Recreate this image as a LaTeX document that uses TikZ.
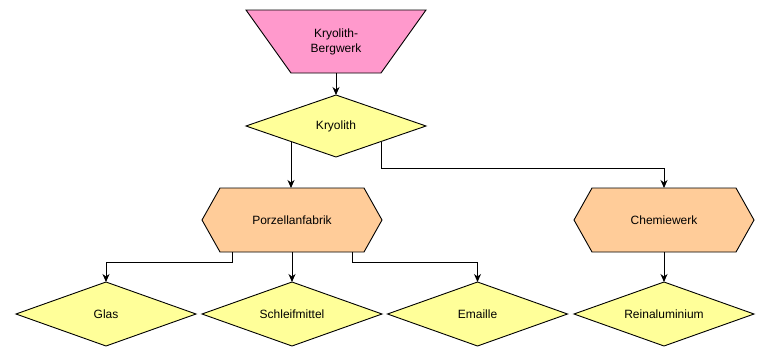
\documentclass[tikz,border=0pt]{standalone}
\usepackage{fontspec}
\setmainfont{Liberation Sans}
\usetikzlibrary{arrows.meta,calc,backgrounds}
\definecolor{pinkfill}{HTML}{FF99CC}
\definecolor{yelfill}{HTML}{FFFF99}
\definecolor{orafill}{HTML}{FFCC99}
\tikzset{
  box/.style={minimum width=180pt, minimum height=#1, inner sep=0pt, outer sep=0pt,
    font=\fontsize{12}{15}\selectfont, align=center},
  box/.default=64pt,
  outline/.style={draw=black, line width=0.9pt, line join=miter},
  arr/.style={draw=black, line width=0.9pt, -{Stealth[length=8pt,width=7pt,inset=2.5pt]}},
}
\begin{document}
\begin{tikzpicture}[x=1pt,y=-1pt]
\useasboundingbox (0,0) rectangle (767,359);
% nodes
\node[box=63pt] (mine) at (336,41.5) {Kryolith-\\Bergwerk};
\node[box=62pt] (kry) at (336,126) {Kryolith};
\node[box] (porz) at (292,220) {Porzellanfabrik};
\node[box] (chem) at (664,220) {Chemiewerk};
\node[box] (glas) at (106,314) {Glas};
\node[box] (schl) at (292,314) {Schleifmittel};
\node[box] (emai) at (477.5,314) {Emaille};
\node[box] (rein) at (664,314) {Reinaluminium};
% shapes
\begin{scope}[on background layer]
\path[outline, fill=pinkfill] (mine.north west) -- (mine.north east)
  -- ([xshift=-45pt]mine.south east) -- ([xshift=45pt]mine.south west) -- cycle;
\foreach \n in {kry,glas,schl,emai,rein}{
  \path[outline, fill=yelfill] (\n.west) -- (\n.north) -- (\n.east) -- (\n.south) -- cycle;
}
\foreach \n in {porz,chem}{
  \path[outline, fill=orafill] (\n.west) -- ([xshift=18pt]\n.north west) -- ([xshift=-18pt]\n.north east)
    -- (\n.east) -- ([xshift=-18pt]\n.south east) -- ([xshift=18pt]\n.south west) -- cycle;
}
\end{scope}
% connectors
\coordinate (kl) at ($(kry.south)!0.5!(kry.west)$);
\coordinate (kr) at ($(kry.south)!0.5!(kry.east)$);
\coordinate (kbend) at ($(kr)+(0,26.5)$);
\coordinate (pl) at ([xshift=-60pt]porz.south);
\coordinate (pr) at ([xshift=60pt]porz.south);
\coordinate (plb) at ($(pl)+(0,10)$);
\coordinate (prb) at ($(pr)+(0,10)$);
\path[arr] (mine.south) -- (kry.north);
\path[arr] (kl) -- (kl |- porz.north);
\path[arr] (kr) -- (kbend) -| (chem.north);
\path[arr] (pl) -- (plb) -| (glas.north);
\path[arr] (porz.south) -- (schl.north);
\path[arr] (pr) -- (prb) -| (emai.north);
\path[arr] (chem.south) -- (rein.north);
\end{tikzpicture}
\end{document}
